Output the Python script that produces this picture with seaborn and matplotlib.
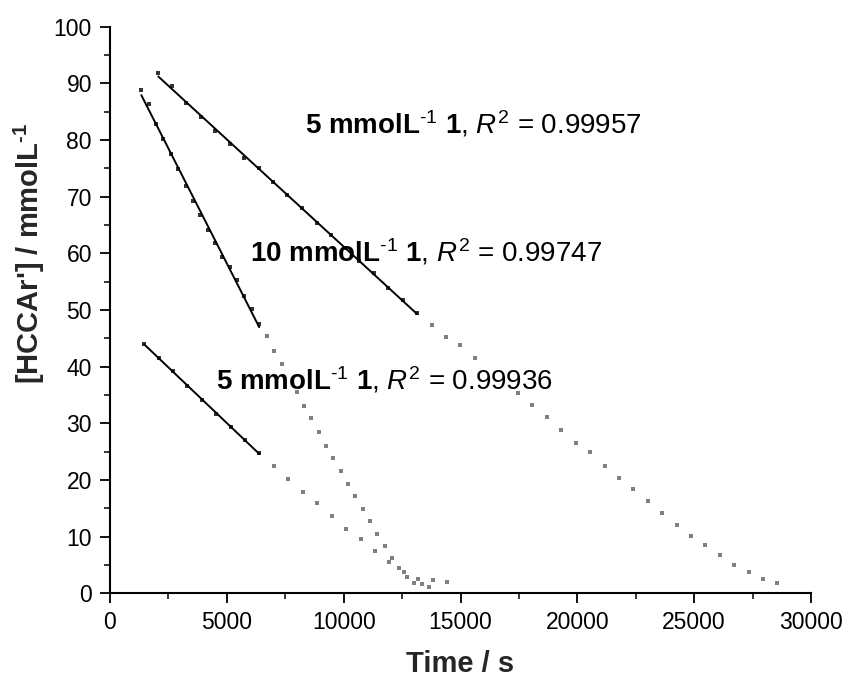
import numpy as np
import pandas as pd
import matplotlib
matplotlib.use("Agg")
import matplotlib.pyplot as plt
from matplotlib.ticker import MultipleLocator
import seaborn as sns

# ---- Series A: 5 mmol/L (upper curve, R2 = 0.99957) ----
a_fit_t = [2067, 2640, 3252, 3881, 4506, 5135, 5747, 6363, 6962, 7587, 8203, 8845,
           9444, 10056, 10668, 11297, 11909, 12525, 13150]
a_fit_c = [91.9, 89.5, 86.6, 84.1, 81.6, 79.3, 76.9, 75.0, 72.6, 70.3, 68.0, 65.4,
           63.2, 61.0, 58.7, 56.5, 53.9, 51.8, 49.4]
a_rest_t = [13765, 14377, 14990, 15618, 17445, 18070, 18686, 19311, 19927, 20539,
            21168, 21780, 22393, 23009, 23633, 24249, 24861, 25473, 26102, 26714,
            27330, 27942, 28554]
a_rest_c = [47.3, 45.2, 43.8, 41.6, 35.3, 33.2, 31.1, 28.8, 26.6, 24.9, 22.5, 20.4,
            18.4, 16.3, 14.2, 12.1, 10.2, 8.5, 6.8, 5.0, 3.8, 2.5, 1.9]

# ---- Series B: 10 mmol/L (R2 = 0.99747) ----
b_fit_t = [1341, 1669, 1968, 2282, 2596, 2923, 3252, 3565, 3851, 4181, 4493, 4805,
           5122, 5421, 5747, 6063, 6388]
b_fit_c = [88.8, 86.3, 82.9, 80.2, 77.5, 74.8, 71.8, 69.2, 66.8, 64.1, 61.9, 59.4,
           57.6, 55.3, 52.5, 50.1, 47.5]
b_rest_t = [6705, 7018, 7347, 7989, 8301, 8601, 8930, 9243, 9555, 9872, 10184, 10497,
            10813, 11126, 11438, 11754, 12067, 12380, 12696, 13021, 13337, 13650]
b_rest_c = [45.4, 42.8, 40.4, 35.6, 33.1, 30.9, 28.5, 26.0, 23.8, 21.6, 19.3, 17.1,
            14.9, 12.8, 10.5, 8.4, 6.2, 4.5, 2.9, 1.9, 1.6, 1.1]

# ---- Series C: 5 mmol/L (lower curve, R2 = 0.99936) ----
c_fit_t = [1469, 2082, 2696, 3308, 3923, 4536, 5165, 5777, 6389]
c_fit_c = [44.0, 41.6, 39.2, 36.5, 34.2, 31.7, 29.4, 27.0, 24.8]
c_rest_t = [7018, 7630, 8245, 8871, 9486, 10098, 10727, 11339, 11951, 12567, 13192,
            13808, 14407]
c_rest_c = [22.5, 20.2, 17.9, 15.9, 13.7, 11.4, 9.5, 7.4, 5.5, 3.7, 2.6, 2.3, 2.0]

labels = ["$\\mathbf{5\\ mmolL}^{\u20101}\\ \\mathbf{1}$, $\\mathit{R}^{\\mathrm{2}}$ = 0.99957",
          "$\\mathbf{10\\ mmolL}^{\u20101}\\ \\mathbf{1}$, $\\mathit{R}^{\\mathrm{2}}$ = 0.99747",
          "$\\mathbf{5\\ mmolL}^{\u20101}\\ \\mathbf{1}$, $\\mathit{R}^{\\mathrm{2}}$ = 0.99936"]
label_t = [8330, 5990, 4550]
label_c = [81.2, 58.6, 35.9]

x_ticks = [0, 5000, 10000, 15000, 20000, 25000, 30000]
y_ticks = [0, 10, 20, 30, 40, 50, 60, 70, 80, 90, 100]

sns.set_theme(style="ticks")
plt.rcParams["font.family"] = ["Liberation Sans", "DejaVu Sans"]
plt.rcParams["mathtext.fontset"] = "custom"
plt.rcParams["mathtext.rm"] = "Liberation Sans"
plt.rcParams["mathtext.it"] = "Liberation Sans:italic"
plt.rcParams["mathtext.bf"] = "Liberation Sans:bold"

fig = plt.figure(figsize=(8.48, 6.77), dpi=100)
ax = fig.add_axes([0.1297, 0.1236, 0.8267, 0.8370])

grey = "#808080"
for rt, rc in [(a_rest_t, a_rest_c), (b_rest_t, b_rest_c), (c_rest_t, c_rest_c)]:
    df = pd.DataFrame({"t": rt, "c": rc})
    sns.scatterplot(data=df, x="t", y="c", ax=ax, marker="s", s=11, color=grey,
                    linewidth=0, zorder=2)

for ft, fc in [(a_fit_t, a_fit_c), (b_fit_t, b_fit_c), (c_fit_t, c_fit_c)]:
    df = pd.DataFrame({"t": ft, "c": fc})
    sns.regplot(data=df, x="t", y="c", ax=ax, ci=None, truncate=True,
                color="black", marker="s",
                scatter_kws=dict(s=12, linewidths=0, zorder=3),
                line_kws=dict(lw=1.4, zorder=3))

for txt, tx, ty in zip(labels, label_t, label_c):
    ax.text(tx, ty, txt, fontsize=20, va="baseline", ha="left", zorder=5,
            color="black")

ax.set_xlim(0, 30000)
ax.set_ylim(0, 100)
ax.set_xticks(x_ticks)
ax.set_yticks(y_ticks)
ax.xaxis.set_minor_locator(MultipleLocator(2500))
ax.yaxis.set_minor_locator(MultipleLocator(5))
ax.tick_params(axis="both", which="major", direction="out", length=7, width=1.3,
               labelsize=16.5, colors="black", pad=6)
ax.tick_params(axis="both", which="minor", direction="out", length=4, width=1.3)
for s in ["top", "right"]:
    ax.spines[s].set_visible(False)
for s in ["left", "bottom"]:
    ax.spines[s].set_linewidth(1.5)
    ax.spines[s].set_color("black")

ax.set_xlabel("Time / s", fontsize=21, fontweight="bold", labelpad=11)
ax.set_ylabel("[HCCAr'] / mmolL$^{\\mathbf{\u20101}}$", fontsize=21, fontweight="bold")
ax.yaxis.set_label_coords(-0.090, 0.60)

fig.savefig("out.png", dpi=100)
